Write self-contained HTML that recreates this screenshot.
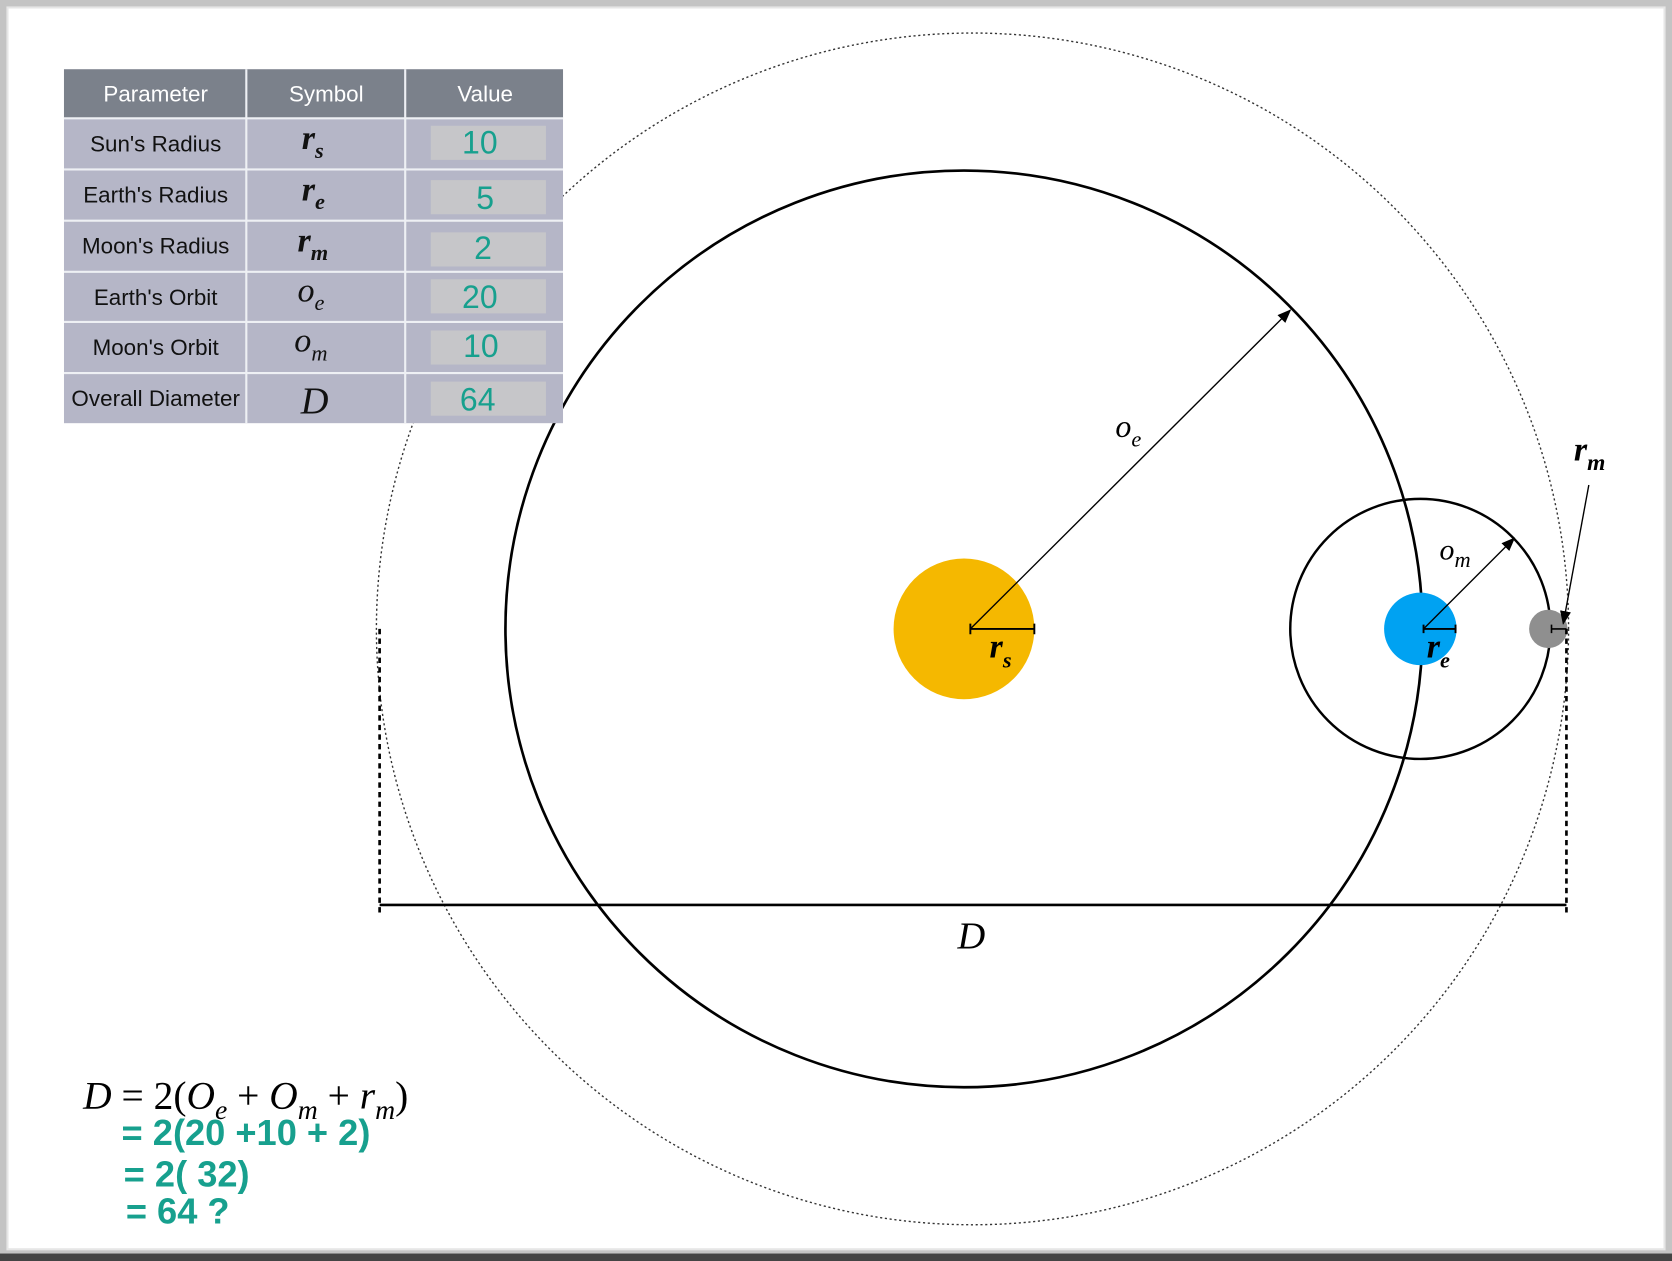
<!DOCTYPE html>
<html><head><meta charset="utf-8"><style>
html,body{margin:0;padding:0;width:1672px;height:1261px;overflow:hidden;background:#c9c9c9}
svg{display:block}
.sans{font-family:"Liberation Sans",sans-serif}
.serif{font-family:"Liberation Serif",serif;font-style:italic}
.hand{font-family:"Liberation Sans",sans-serif;fill:#17a08e}
</style></head><body>
<svg width="1672" height="1261" viewBox="0 0 1568 1183" preserveAspectRatio="none">
<defs><marker id="ah" markerWidth="10" markerHeight="10" refX="9" refY="5" orient="auto"><path d="M0,1 L10,5 L0,9 z" fill="#000"/></marker></defs>
<rect x="0" y="0" width="1568" height="1183" fill="#c4c4c4"/>
<rect x="7" y="7" width="1554" height="1165" fill="#fff" stroke="#e6e6e6" stroke-width="2"/>
<rect x="0" y="1176" width="1568" height="7" fill="#444"/>

<circle cx="912" cy="590" r="559" fill="none" stroke="#333" stroke-width="1.3" stroke-dasharray="2,2.5"/>
<circle cx="904" cy="590" r="430" fill="none" stroke="#000" stroke-width="2.5"/>
<circle cx="904" cy="590" r="66" fill="#f5b800"/>
<circle cx="1332" cy="590" r="122" fill="none" stroke="#000" stroke-width="2.3"/>
<circle cx="1332" cy="590" r="34" fill="#00a2f2"/>
<circle cx="1452" cy="590" r="18" fill="#8f8f8f"/>

<line x1="910" y1="590" x2="1210" y2="291" stroke="#000" stroke-width="1.3" marker-end="url(#ah)"/>
<text x="1046" y="410" class="serif" font-size="30">o<tspan font-size="21" dy="9">e</tspan></text>
<path d="M910,590 H970 M910,585 V595 M970,585 V595" stroke="#000" stroke-width="1.8"/>
<text x="928" y="617" class="serif" font-size="32" font-weight="bold">r<tspan font-size="21" dy="9">s</tspan></text>
<line x1="1335" y1="590" x2="1420" y2="505" stroke="#000" stroke-width="1.3" marker-end="url(#ah)"/>
<text x="1350" y="525" class="serif" font-size="28">o<tspan font-size="21" dy="7">m</tspan></text>
<path d="M1335,590 H1365 M1335,586 V594 M1365,586 V594" stroke="#000" stroke-width="1.8"/>
<text x="1338" y="617" class="serif" font-size="32" font-weight="bold">r<tspan font-size="21" dy="9">e</tspan></text>
<path d="M1455,590 H1469 M1455,586 V594" stroke="#000" stroke-width="1.5"/>
<line x1="1490" y1="455" x2="1466" y2="585" stroke="#000" stroke-width="1.3" marker-end="url(#ah)"/>
<text x="1476" y="432" class="serif" font-size="32" font-weight="bold">r<tspan font-size="22" dy="9">m</tspan></text>

<line x1="356" y1="590" x2="356" y2="856" stroke="#000" stroke-width="2.5" stroke-dasharray="5,4"/>
<line x1="1469" y1="590" x2="1469" y2="856" stroke="#000" stroke-width="2.5" stroke-dasharray="5,4"/>
<line x1="356" y1="849" x2="1469" y2="849" stroke="#000" stroke-width="2.5"/>
<text x="898" y="890" class="serif" font-size="36">D</text>

<g>
<rect x="60" y="65" width="468" height="332" fill="#b5b6c7"/>
<rect x="60" y="65" width="468" height="46" fill="#7b818b"/>
<g stroke="#eef0f4" stroke-width="2">
<line x1="231" y1="65" x2="231" y2="397"/><line x1="380" y1="65" x2="380" y2="397"/>
<line x1="60" y1="111" x2="528" y2="111"/><line x1="60" y1="159" x2="528" y2="159"/>
<line x1="60" y1="207" x2="528" y2="207"/><line x1="60" y1="255" x2="528" y2="255"/>
<line x1="60" y1="302" x2="528" y2="302"/><line x1="60" y1="350" x2="528" y2="350"/>
</g>
<g fill="#c6c6c9">
<rect x="404" y="118" width="108" height="32"/><rect x="404" y="169" width="108" height="32"/>
<rect x="404" y="218" width="108" height="32"/><rect x="404" y="262" width="108" height="32"/>
<rect x="404" y="310" width="108" height="32"/><rect x="404" y="358" width="108" height="32"/>
</g>
<g class="sans" font-size="21" fill="#fff" text-anchor="middle">
<text x="146" y="95">Parameter</text><text x="306" y="95">Symbol</text><text x="455" y="95">Value</text>
</g>
<g class="sans" font-size="21" fill="#111" text-anchor="middle">
<text x="146" y="142">Sun's Radius</text><text x="146" y="190">Earth's Radius</text>
<text x="146" y="238">Moon's Radius</text><text x="146" y="286">Earth's Orbit</text>
<text x="146" y="333">Moon's Orbit</text><text x="146" y="381" textLength="158">Overall Diameter</text>
</g>
<g class="serif" font-size="32" font-weight="bold" fill="#111">
<text x="283" y="140">r<tspan font-size="21" dy="8">s</tspan></text>
<text x="283" y="188">r<tspan font-size="21" dy="8">e</tspan></text>
<text x="279" y="236">r<tspan font-size="21" dy="8">m</tspan></text>
<text x="279" y="283" font-weight="normal">o<tspan font-size="21" dy="8">e</tspan></text>
<text x="276" y="330" font-weight="normal">o<tspan font-size="21" dy="8">m</tspan></text>
<text x="282" y="388" font-size="36" font-weight="normal">D</text>
</g>
<g class="hand" font-size="30" text-anchor="middle">
<text x="450" y="144">10</text><text x="455" y="196">5</text><text x="453" y="243">2</text>
<text x="450" y="289">20</text><text x="451" y="335">10</text><text x="448" y="385">64</text>
</g>
</g>

<text x="78" y="1040" font-family="Liberation Serif,serif" font-size="37"><tspan font-style="italic">D</tspan> = 2(<tspan font-style="italic">O</tspan><tspan font-style="italic" font-size="26" dy="10">e</tspan><tspan dy="-10"> + </tspan><tspan font-style="italic">O</tspan><tspan font-style="italic" font-size="26" dy="10">m</tspan><tspan dy="-10"> + </tspan><tspan font-style="italic">r</tspan><tspan font-style="italic" font-size="26" dy="10">m</tspan><tspan dy="-10">)</tspan></text>
<text x="114" y="1074" class="hand" font-size="34" font-weight="bold">= 2(20 +10 + 2)</text>
<text x="116" y="1113" class="hand" font-size="34" font-weight="bold">= 2( 32)</text>
<text x="118" y="1148" class="hand" font-size="34" font-weight="bold">=  64 ?</text>
</svg>
</body></html>
